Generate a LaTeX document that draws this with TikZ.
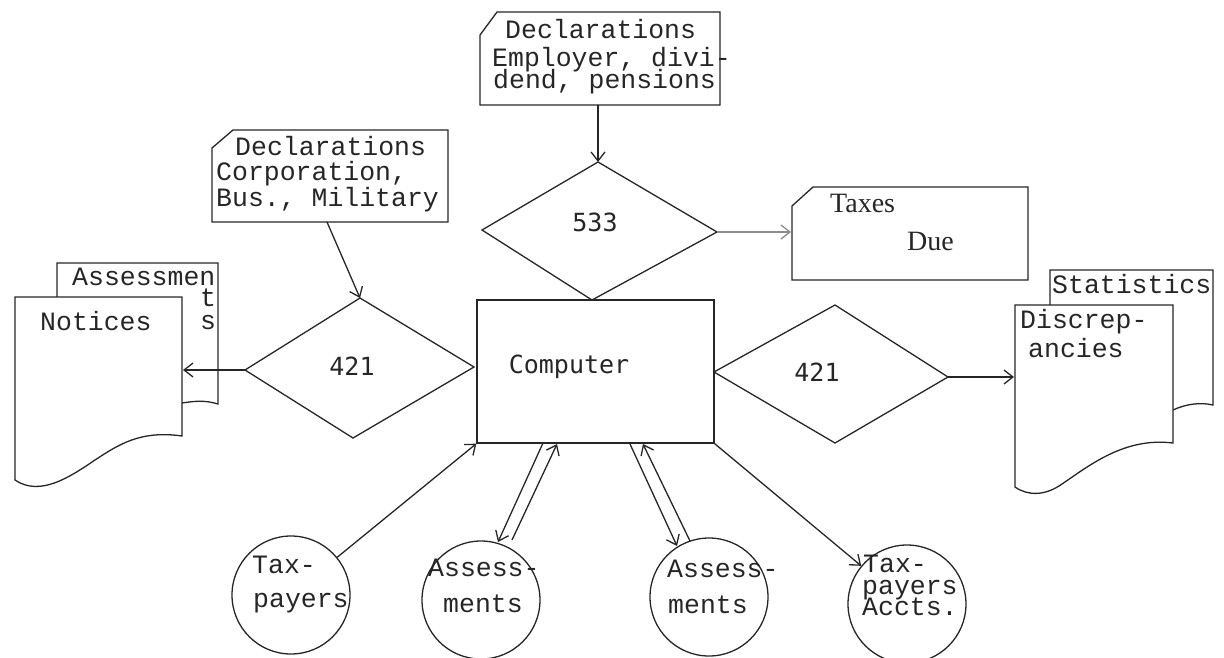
\documentclass[tikz,border=0pt]{standalone}
\usepackage{fontspec}
\setmonofont{Liberation Mono}
\newfontfamily\gothicfont{DejaVu Sans Mono}
\newfontfamily\cardserif{Liberation Serif}
\usetikzlibrary{arrows.meta}

\begin{document}
\begin{tikzpicture}[x=1pt,y=-1pt,
  ink/.style={draw=black!85,line width=1.3pt},
  flow/.style={ink,-{Straight Barb[length=9pt,width=14pt]}},
  faintflow/.style={flow,draw=black!45},
  tw/.style={font=\ttfamily\fontsize{26.5}{30}\selectfont,text=black!85,inner sep=0pt,anchor=base west},
  num/.style={font=\gothicfont\fontsize{25}{29}\selectfont,text=black!85,inner sep=0pt},
  serifword/.style={font=\cardserif\fontsize{28}{32}\selectfont,text=black!85,inner sep=0pt,anchor=base west},
  store/.style={ink,circle,minimum size=118pt,inner sep=0pt},
]
\useasboundingbox (0,0) rectangle (1224,657);

% ---- input card: employer, dividend, pension declarations ----
\draw[ink] (480,35) -- (497,12) -- (720,12) -- (720,105) -- (480,105) -- cycle;
\coordinate (empOut) at (598,105);
\node[tw] (empA) at (505,38) {Declarations};
\node[tw] (empB) at (492,66) {Employer, divi-};
\node[tw] (empC) at (493,88) {dend, pensions};

% ---- input card: corporation, business, military declarations ----
\draw[ink] (212,148) -- (233,130) -- (448,130) -- (448,222) -- (212,222) -- cycle;
\coordinate (corpOut) at (327,222);
\node[tw] (corpA) at (235,155) {Declarations};
\node[tw] (corpB) at (216,180) {Corporation,};
\node[tw] (corpC) at (216,206) {Bus., Military};

% ---- decision 533 ----
\coordinate (dTw) at (482,230);
\coordinate (dTn) at (598,162);
\coordinate (dTe) at (717,232);
\coordinate (dTs) at (592,300);
\draw[ink] (dTw) -- (dTn) -- (dTe) -- (dTs) -- cycle;
\node[num] (n533) at (595,222) {533};

% ---- output card: taxes due ----
\draw[ink] (792,206) -- (813,187) -- (1028,187) -- (1028,280) -- (792,280) -- cycle;
\coordinate (taxIn) at (791,232);
\node[serifword] (taxA) at (830,212) {Taxes};
\node[serifword] (taxB) at (907,250) {Due};

% ---- computer ----
\node[ink,rectangle,minimum width=237pt,minimum height=143pt,inner sep=0pt] (comp) at (595.5,371.5) {};
\node[num] (compLbl) at (569,367) {Computer};

% ---- decision 421 (left) ----
\coordinate (dLw) at (245,370);
\coordinate (dLn) at (360,298);
\coordinate (dLe) at (474,367);
\coordinate (dLs) at (353,438);
\draw[ink] (dLw) -- (dLn) -- (dLe) -- (dLs) -- cycle;
\node[num] (n421a) at (352,366) {421};

% ---- decision 421 (right) ----
\coordinate (dRw) at (714,372);
\coordinate (dRn) at (835,305);
\coordinate (dRe) at (948,377);
\coordinate (dRs) at (835,443);
\draw[ink] (dRw) -- (dRn) -- (dRe) -- (dRs) -- cycle;
\node[num] (n421b) at (817,372) {421};

% ---- report stack: assessments behind notices ----
\draw[ink] (57,297) -- (57,263) -- (218,263) -- (218,404)
  .. controls (205,400) and (195,401) .. (182,403);
\node[tw] (asmA) at (72,285) {Assessmen};
\node[tw] (asmB) at (200,306) {t};
\node[tw] (asmC) at (200,329) {s};
\draw[ink,fill=white] (15,297) -- (182,297) -- (182,436)
  .. controls (140,430) and (118,445) .. (95,460)
  .. controls (70,477) and (40,497) .. (15,480) -- cycle;
\coordinate (notIn) at (183,370);
\node[tw] (notA) at (40,330) {Notices};

% ---- report stack: statistics behind discrepancies ----
\draw[ink] (1050,305) -- (1050,270) -- (1213,270) -- (1213,405)
  .. controls (1200,402) and (1186,404) .. (1173,410);
\node[tw] (statA) at (1052,293) {Statistics};
\draw[ink,fill=white] (1015,305) -- (1173,305) -- (1173,443)
  .. controls (1125,437) and (1090,465) .. (1062,484)
  .. controls (1045,496) and (1028,496) .. (1015,487) -- cycle;
\coordinate (discIn) at (1014,377);
\node[tw] (discA) at (1020,328) {Discrep-};
\node[tw] (discB) at (1028,357) {ancies};

% ---- files ----
\node[store] (tp) at (291,595) {};
\node[tw] (tpA) at (252,573) {Tax-};
\node[tw] (tpB) at (253,607) {payers};

\node[store] (as1) at (481,600) {};
\node[tw] (as1A) at (428,576) {Assess-};
\node[tw] (as1B) at (443,612) {ments};

\node[store] (as2) at (709,597) {};
\node[tw] (as2A) at (667,577) {Assess-};
\node[tw] (as2B) at (668,613) {ments};

\node[store] (acc) at (907,604) {};
\node[tw] (accA) at (863,572) {Tax-};
\node[tw] (accB) at (862,594) {payers};
\node[tw] (accC) at (862,615) {Accts.};

% ---- flow lines ----
\draw[flow] (empOut) -- (dTn);
\draw[flow] (corpOut) -- (dLn);
\draw[faintflow] (dTe) -- (taxIn);
\draw[flow] (dLw) -- (notIn);
\draw[flow] (dRe) -- (discIn);
\draw[flow] (tp) -- (comp.south west);

\coordinate (c1a) at (543,443);
\coordinate (c1b) at (557,444);
\coordinate (s1a) at (498,542);
\coordinate (s1b) at (512,540);
\draw[flow] (c1a) -- (s1a);
\draw[flow] (s1b) -- (c1b);

\coordinate (c2a) at (630,444);
\coordinate (c2b) at (643,444);
\coordinate (s2a) at (677,546);
\coordinate (s2b) at (690,541);
\draw[flow] (c2a) -- (s2a);
\draw[flow] (s2b) -- (c2b);

\draw[flow] (comp.south east) -- (acc);
\end{tikzpicture}
\end{document}
